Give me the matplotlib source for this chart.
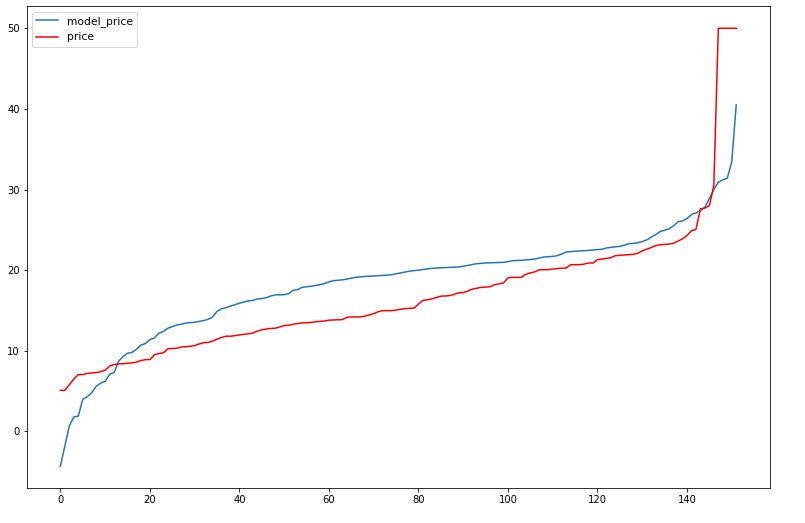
import matplotlib
matplotlib.use("Agg")
import matplotlib.pyplot as plt
import numpy as np


# values, sorted by price
model_price = [
    -4.3, -1.8, 0.7, 1.8, 1.9, 4.0, 4.3, 4.8, 5.6, 6.0,
    6.2, 7.1, 7.3, 8.7, 9.3, 9.7, 9.8, 10.2, 10.7, 10.9,
    11.4, 11.6, 12.2, 12.4, 12.8, 13.0, 13.2, 13.3, 13.45, 13.5,
    13.54, 13.65, 13.75, 13.9, 14.2, 14.9, 15.2, 15.35, 15.55, 15.73,
    15.9, 16.05, 16.2, 16.25, 16.43, 16.47, 16.6, 16.8, 16.93, 16.95,
    16.96, 17.1, 17.5, 17.6, 17.87, 17.95, 18.0, 18.1, 18.2, 18.35,
    18.55, 18.7, 18.75, 18.8, 18.9, 19.0, 19.12, 19.17, 19.22, 19.25,
    19.28, 19.31, 19.35, 19.4, 19.44, 19.55, 19.65, 19.77, 19.88, 19.95,
    20.0, 20.08, 20.16, 20.22, 20.27, 20.3, 20.32, 20.35, 20.37, 20.39,
    20.5, 20.58, 20.7, 20.8, 20.85, 20.9, 20.92, 20.94, 20.95, 20.97,
    21.05, 21.18, 21.2, 21.22, 21.27, 21.32, 21.38, 21.5, 21.63, 21.67,
    21.71, 21.8, 22.0, 22.25, 22.3, 22.35, 22.38, 22.42, 22.45, 22.5,
    22.55, 22.6, 22.75, 22.83, 22.9, 22.95, 23.1, 23.28, 23.33, 23.4,
    23.55, 23.75, 24.1, 24.4, 24.8, 24.95, 25.14, 25.5, 26.0, 26.1,
    26.4, 26.9, 27.1, 27.4, 27.8, 28.9, 30.0, 30.9, 31.2, 31.4,
    33.4, 40.5,
]

price = [
    5.1, 5.1, 5.8, 6.5, 7.05, 7.05, 7.2, 7.25, 7.3, 7.4,
    7.6, 8.1, 8.3, 8.38, 8.4, 8.45, 8.5, 8.6, 8.8, 8.9,
    8.92, 9.5, 9.66, 9.75, 10.25, 10.28, 10.32, 10.47, 10.52, 10.55,
    10.65, 10.85, 11.0, 11.04, 11.2, 11.45, 11.65, 11.81, 11.81, 11.88,
    11.97, 12.05, 12.1, 12.2, 12.45, 12.6, 12.7, 12.78, 12.8, 12.95,
    13.13, 13.17, 13.3, 13.38, 13.46, 13.48, 13.52, 13.6, 13.65, 13.7,
    13.8, 13.83, 13.85, 13.87, 14.15, 14.2, 14.2, 14.2, 14.3, 14.45,
    14.6, 14.85, 14.98, 14.98, 14.98, 15.05, 15.15, 15.23, 15.27, 15.3,
    15.8, 16.25, 16.33, 16.45, 16.6, 16.78, 16.8, 16.85, 17.0, 17.2,
    17.22, 17.4, 17.65, 17.75, 17.87, 17.9, 17.95, 18.2, 18.3, 18.41,
    19.05, 19.11, 19.11, 19.11, 19.5, 19.65, 19.8, 20.06, 20.06, 20.06,
    20.15, 20.2, 20.25, 20.27, 20.68, 20.68, 20.68, 20.75, 20.89, 20.89,
    21.3, 21.38, 21.45, 21.55, 21.8, 21.85, 21.88, 21.92, 21.97, 22.1,
    22.4, 22.6, 22.8, 23.05, 23.15, 23.2, 23.24, 23.35, 23.6, 23.9,
    24.3, 24.9, 25.05, 27.6, 27.7, 28.0, 30.5, 50.0, 50.0, 50.0,
    50.0, 50.0,
]


fig = plt.figure(figsize=(805 / 72, 523 / 72), dpi=72)
ax = fig.add_axes([26.6 / 805, 35 / 523, (770 - 26.6) / 805, (488 - 6.4) / 523])

ax.plot(np.arange(len(model_price)), model_price, label='model_price')
ax.plot(np.arange(len(price)), price, color='red', label='price')
ax.legend(loc='upper left', fontsize=10.8)

fig.savefig('out.png', dpi=72)
